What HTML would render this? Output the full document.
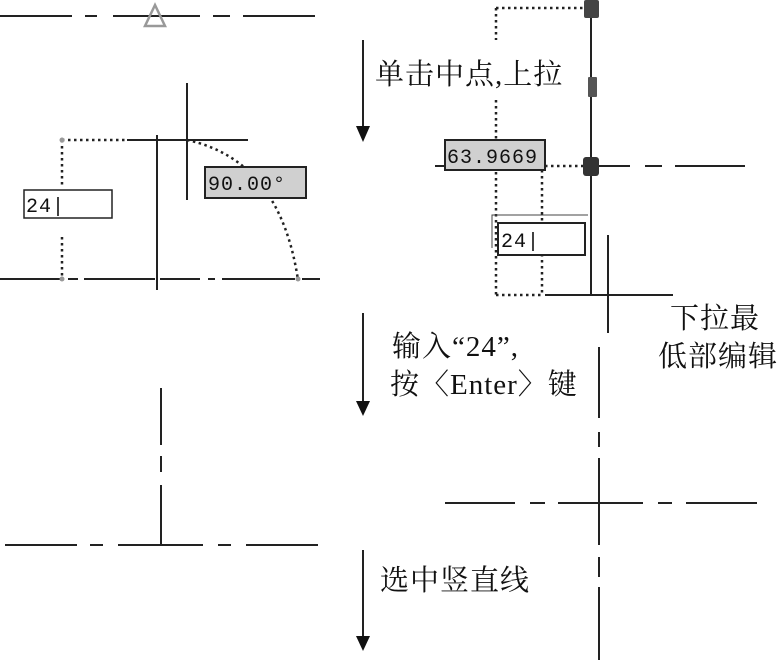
<!DOCTYPE html>
<html><head><meta charset="utf-8"><style>
body{margin:0;background:#fff;}
svg{display:block;}
.t{font-family:"Liberation Serif","Noto Serif CJK SC",serif;font-size:29px;fill:#111;letter-spacing:1px;}
.m{font-family:"Liberation Mono","DejaVu Sans Mono",monospace;font-size:20px;fill:#111;letter-spacing:1px;}
</style></head><body>
<svg width="781" height="661" viewBox="0 0 781 661" xmlns="http://www.w3.org/2000/svg">
<g stroke="#222" stroke-width="2" fill="none">
<path d="M0 16H72M85 16H97M113 16H200M213 16H230M243 16H315"/>
<path d="M0 279H60M68 279H78M84 279H155M160 279H200M208 279H215M222 279H295M302 279H320"/>
<path d="M127 140H248M187 83V200M157 135V290"/>
<path d="M591 0V295"/>
<path d="M435 166H447M598 166H630M645 166H662M675 166H745"/>
<path d="M545 295H673M608 235V333"/>
<path d="M161 388V445M161 456V472M161 485V545"/>
<path d="M5 545H77M90 545H103M118 545H203M218 545H231M246 545H318"/>
<path d="M599 347V418M599 432V447M599 458V545M599 557V577M599 587V660"/>
<path d="M445 503H515M530 503H545M558 503H643M658 503H672M686 503H757"/>
<path d="M363 40V128M363 313V403M363 550V638"/>
</g>
<g fill="#111">
<path d="M356 126H370L363 142Z"/><path d="M356 401H370L363 416Z"/><path d="M356 636H370L363 651Z"/>
</g>
<path d="M155 5L145 26H165Z" fill="none" stroke="#999" stroke-width="2.5"/>
<g stroke="#222" stroke-width="2.5" stroke-dasharray="2.5 3.5" fill="none">
<path d="M62 140H125M62 140V185M62 237V280"/>
<path d="M187 140Q280 160 298 280"/>
<path d="M496 8H584M496 8V40M496 100V295M542 170V295M496 295H542M545 166H584"/>
</g>
<circle cx="62" cy="140" r="2.5" fill="#999"/><circle cx="62" cy="279" r="2.5" fill="#999"/><circle cx="298" cy="279" r="2.5" fill="#999"/>
<rect x="24" y="190" width="88" height="28" fill="#fff" stroke="#222" stroke-width="1.5"/>
<text class="m" x="26" y="212">24|</text>
<rect x="205" y="167" width="101" height="31" fill="#d0d0d0" stroke="#222" stroke-width="2"/>
<text class="m" x="208" y="190">90.00°</text>
<rect x="445" y="140" width="100" height="30" fill="#d0d0d0" stroke="#222" stroke-width="2"/>
<text class="m" x="447" y="163">63.9669</text>
<path d="M492 248V215H588" stroke="#444" stroke-width="1" fill="none"/>
<rect x="498" y="223" width="87" height="32" fill="#fff" stroke="#222" stroke-width="2"/>
<text class="m" x="501" y="247">24|</text>
<rect x="584" y="0" width="15" height="18" rx="2" fill="#444"/>
<rect x="588" y="77" width="9" height="20" rx="1" fill="#555"/>
<rect x="583" y="157" width="16" height="19" rx="3" fill="#333"/>
<text class="t" x="375" y="84">单击中点,上拉</text>
<text class="t" x="392" y="356">输入“24”,</text>
<text class="t" x="390" y="394">按〈Enter〉键</text>
<text class="t" x="380" y="590">选中竖直线</text>
<text class="t" x="670" y="328">下拉最</text>
<text class="t" x="658" y="366">低部编辑</text>
</svg>
</body></html>
